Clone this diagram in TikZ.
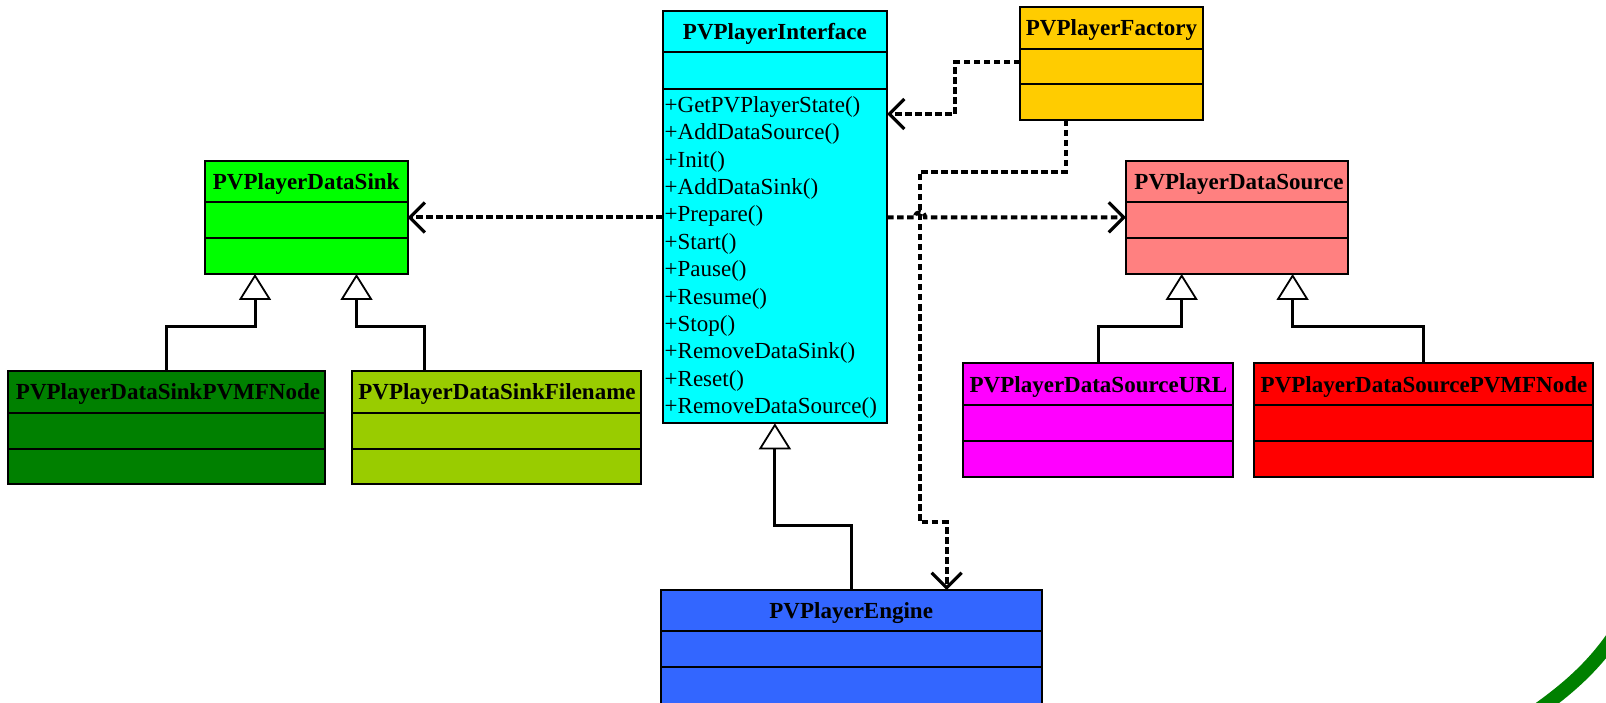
\documentclass[tikz,border=0pt]{standalone}
\usepackage{fontspec}
\setmainfont{Liberation Serif}
\usetikzlibrary{arrows.meta}

\definecolor{ifacecyan}{RGB}{0,255,255}
\definecolor{factorygold}{RGB}{255,204,0}
\definecolor{sinkgreen}{RGB}{0,255,0}
\definecolor{sinknodegreen}{RGB}{0,128,0}
\definecolor{sinkfilegreen}{RGB}{153,204,0}
\definecolor{sourcepink}{RGB}{255,128,128}
\definecolor{urlmagenta}{RGB}{255,0,255}
\definecolor{srcnodered}{RGB}{255,0,0}
\definecolor{engineblue}{RGB}{51,102,255}
\definecolor{swoosh}{RGB}{0,128,0}

\tikzset{
  classbox/.style={draw=black, line width=2pt, rectangle, inner sep=0pt, outer sep=0pt, anchor=north west},
  compline/.style={line width=2pt},
  titletext/.style={font=\fontsize{23}{27}\selectfont\bfseries, inner sep=0pt, anchor=base},
  methodtext/.style={font=\fontsize{23}{27}\selectfont, inner sep=0pt, anchor=base west},
  inherit/.style={line width=3pt, -{Triangle[open, fill=white, length=26pt, width=32pt, line width=1.8pt]}},
  depend/.style={line width=4pt, dash pattern=on 6.5pt off 3.5pt,
    -{Straight Barb[length=15pt, width=30pt, line width=3.2pt]}},
}

% UML class box: name, fill, left, top, right, bottom, header rule, attribute rule
\newcommand{\umlclass}[8]{%
  \node[classbox, fill=#2, minimum width={(#5-#3)*1pt}, minimum height={(#6-#4)*1pt}] (#1) at (#3,#4) {};
  \draw[compline] (#3,#7) -- (#5,#7);
  \draw[compline] (#3,#8) -- (#5,#8);
}

\begin{document}
\begin{tikzpicture}[x=1pt,y=-1pt]
\useasboundingbox (0,0) rectangle (1606,703);
\fill[white] (0,0) rectangle (1606,703);

% decorative swoosh in the corner
\draw[swoosh, line width=14pt] (1538,710) .. controls (1566,690) and (1592,668) .. (1614,636);

% classes
\umlclass{iface}{ifacecyan}{662.7}{11}{887}{423.3}{52.3}{89}
\umlclass{factory}{factorygold}{1020}{7}{1203}{120}{49}{84.5}
\umlclass{sink}{sinkgreen}{205}{160.7}{407.5}{274}{202.3}{238.3}
\umlclass{sinknode}{sinknodegreen}{8.4}{371}{325}{484.3}{412.7}{449}
\umlclass{sinkfile}{sinkfilegreen}{351.9}{371}{640.6}{484.3}{412.7}{449}
\umlclass{source}{sourcepink}{1126}{160.7}{1348}{274}{202.3}{238.3}
\umlclass{srcurl}{urlmagenta}{963.4}{363.3}{1233}{476.7}{405}{440.7}
\umlclass{srcnode}{srcnodered}{1253.5}{363.3}{1593}{476.7}{405}{440.7}
\umlclass{engine}{engineblue}{660.7}{590}{1041.7}{706}{631}{667.3}

% class names
\node[titletext] (iface-title) at (774.9,39.7) {PVPlayerInterface};
\node[titletext] (factory-title) at (1111.5,36) {PVPlayerFactory};
\node[titletext] (sink-title) at (306.2,189.5) {PVPlayerDataSink};
\node[titletext] (sinknode-title) at (168,399.9) {PVPlayerDataSinkPVMFNode};
\node[titletext] (sinkfile-title) at (497,399.9) {PVPlayerDataSinkFilename};
\node[titletext] (source-title) at (1239,189.5) {PVPlayerDataSource};
\node[titletext] (srcurl-title) at (1098.5,392.2) {PVPlayerDataSourceURL};
\node[titletext] (srcnode-title) at (1424,392.2) {PVPlayerDataSourcePVMFNode};
\node[titletext] (engine-title) at (851.2,618.5) {PVPlayerEngine};

% operations of PVPlayerInterface
\foreach \op [count=\i from 0] in {GetPVPlayerState,AddDataSource,Init,AddDataSink,Prepare,Start,Pause,Resume,Stop,RemoveDataSink,Reset,RemoveDataSource}
  \node[methodtext] (op\i) at (664.5,{112.5+27.37*\i}) {+\op()};

% generalisations
\coordinate (k1) at (255,326);
\coordinate (k2) at (356.5,326);
\coordinate (k2b) at (424,326);
\draw[inherit] (sinknode.north) |- (k1) -- (k1 |- sink.south);
\draw[inherit] (k2b |- sinkfile.north) -- (k2b) -- (k2) -- (k2 |- sink.south);

\coordinate (q1) at (1181.7,326);
\coordinate (q1b) at (1098.5,326);
\coordinate (q2) at (1292.6,326);
\coordinate (q2b) at (1423.4,326);
\draw[inherit] (q1b |- srcurl.north) -- (q1b) -- (q1) -- (q1 |- source.south);
\draw[inherit] (q2b |- srcnode.north) -- (q2b) -- (q2) -- (q2 |- source.south);

\coordinate (e1) at (774.9,525);
\coordinate (e2) at (851,525);
\draw[inherit] (e2 |- engine.north) -- (e2) -- (e1) -- (e1 |- iface.south);

% dependencies
\coordinate (g1) at (955,62.3);
\coordinate (g2) at (955,114);
\draw[depend] (factory.west |- g1) -- (g1) -- (g2) -- (g2 -| iface.east);

\coordinate (fa) at (1066,171.7);
\coordinate (fb) at (920,171.7);
\coordinate (fc) at (920,522.3);
\coordinate (fd) at (946.7,522.3);
\draw[depend] (fa |- factory.south) -- (fa) -- (fb) -- (fc) -- (fd) -- (fd |- engine.north);

\coordinate (hop) at (920,217.3);
\draw[depend] (iface.east |- hop) -- ([xshift=-5pt]hop)
  .. controls +(0,-7) and +(0,-7) .. ([xshift=5pt]hop) -- (hop -| source.west);

\coordinate (ls) at (500,217.5);
\draw[depend] (iface.west |- ls) -- (ls -| sink.east);

\end{tikzpicture}
\end{document}
